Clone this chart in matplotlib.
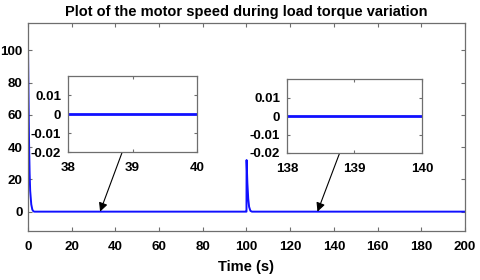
import matplotlib
matplotlib.use("Agg")
import matplotlib.pyplot as plt

# motor speed (start-up transient and load step at t=100 s)
time_s = [0, 0.25, 0.5, 0.75, 1.0, 1.5, 2.0, 2.5, 3.0,
          99.9, 100.0, 100.05, 100.4, 100.8, 101.2, 101.8, 102.5, 200]
speed = [104, 70, 42, 24, 13, 4.5, 1.2, 0.2, 0,
         0, 0, 32, 18, 8, 3, 0.5, 0, 0]

zoom1_t = [38, 40]
zoom1_v = [0, 0]
zoom2_t = [138, 140]
zoom2_v = [0, 0]

x_ticks = [0, 20, 40, 60, 80, 100, 120, 140, 160, 180, 200]
y_ticks = [0, 20, 40, 60, 80, 100]
zoom_y_ticks = [-0.02, -0.01, 0, 0.01]
arrow_targets = [33, 132.5]

plt.rcParams['font.family'] = ['Liberation Sans', 'DejaVu Sans']
plt.rcParams['font.weight'] = 'bold'

blue = '#1010ff'
box = '#6e6e6e'
fs = 9.6

fig = plt.figure(figsize=(4.8, 2.8), dpi=100)
ax = fig.add_axes([0.0583, 0.175, 0.9104, 0.743])
ax.plot(time_s, speed, color=blue, lw=1.4)
ax.set_xlim(0, 200)
ax.set_ylim(-12, 117)
ax.set_xticks(x_ticks)
ax.set_yticks(y_ticks)
ax.tick_params(direction='in', top=True, right=True, length=3, color=box, labelsize=fs)
ax.tick_params(axis='x', pad=7.5)
ax.tick_params(axis='y', pad=4)
for s in ax.spines.values():
    s.set_color(box)
    s.set_linewidth(0.9)
ax.set_title('Plot of the motor speed during load torque variation',
             fontsize=10.5, fontweight='bold', pad=5)
ax.set_xlabel('Time (s)', fontsize=10.5, fontweight='bold', labelpad=5)


def make_inset(rect, t, v, xt):
    ins = fig.add_axes(rect)
    ins.plot(t, v, color=blue, lw=2)
    ins.set_xlim(t[0], t[-1])
    ins.set_ylim(-0.02, 0.02)
    ins.set_xticks(xt)
    ins.set_yticks(zoom_y_ticks)
    ins.set_yticklabels(['-0.02', '-0.01', '0', '0.01'])
    ins.tick_params(direction='in', top=True, right=True, length=2, color=box, labelsize=fs)
    ins.tick_params(axis='x', pad=7)
    ins.tick_params(axis='y', pad=5)
    for s in ins.spines.values():
        s.set_color(box)
        s.set_linewidth(0.9)
    return ins


in1 = make_inset([0.1417, 0.457, 0.269, 0.271], zoom1_t, zoom1_v, [38, 39, 40])
in2 = make_inset([0.598, 0.4536, 0.281, 0.264], zoom2_t, zoom2_v, [138, 139, 140])

for ins, tx, start in [(in1, arrow_targets[0], 0.42), (in2, arrow_targets[1], 0.39)]:
    ax.annotate('', xy=(tx, 0), xycoords='data',
                xytext=(start, 0), textcoords=ins.transAxes,
                arrowprops=dict(arrowstyle='-|>', mutation_scale=13, lw=0.8,
                                color='k', shrinkA=0, shrinkB=0))

fig.savefig('out.png', dpi=100)
